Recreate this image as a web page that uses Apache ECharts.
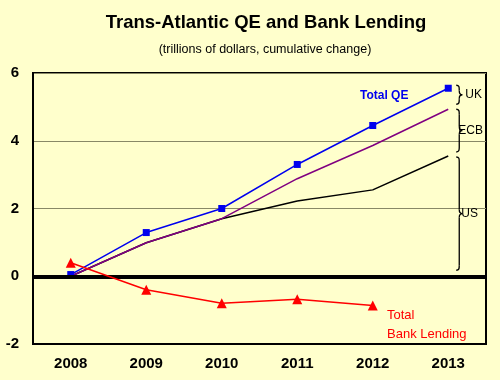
<!DOCTYPE html>
<html><head><meta charset="utf-8">
<script src="https://cdn.jsdelivr.net/npm/echarts@6/dist/echarts.min.js"></script>
<style>html,body{margin:0;padding:0;background:#FFFFCC}#c{width:500px;height:380px}</style>
</head><body><div id="c"></div>
<script>
var years = ['2008','2009','2010','2011','2012','2013'];
var totalQE = [0.05, 1.29, 2.0, 3.3, 4.45, 5.55];
var usPlusEcb = [0.0, 0.99, 1.7, 2.88, 3.86, 4.93];
var usQE = [0.0, 0.99, 1.7, 2.22, 2.55, 3.55];
var bankLending = [0.4, -0.4, -0.8, -0.68, -0.86, null];
var yTicks = [-2, 0, 2, 4, 6];

var chart = echarts.init(document.getElementById('c'), null, {renderer:'canvas'});
var F = '"Liberation Sans", Arial, sans-serif';
var option = {
  backgroundColor: '#FFFFCC',
  animation: false,
  title: [
    {text: 'Trans-Atlantic QE and Bank Lending', left: 261, textAlign: 'center', top: 8,
     textStyle: {fontFamily: F, fontSize: 18.5, fontWeight: 'bold', color: '#000'}},
    {text: '(trillions of dollars, cumulative change)', left: 260, textAlign: 'center', top: 38,
     textStyle: {fontFamily: F, fontSize: 12.5, fontWeight: 'normal', color: '#000'}}
  ],
  grid: {left: 33, right: 14, top: 73, bottom: 36, show: true, borderColor: '#000', borderWidth: 2, backgroundColor: '#FFFFCC'},
  xAxis: {type: 'category', data: years, boundaryGap: true,
    axisLine: {show: true, onZero: false, lineStyle: {color: '#000', width: 2}},
    axisTick: {show: false},
    axisLabel: {fontFamily: F, fontSize: 15, fontWeight: 'bold', color: '#000', margin: 12},
    splitLine: {show: false}},
  yAxis: {type: 'value', min: yTicks[0], max: yTicks[yTicks.length-1], interval: 2,
    axisLine: {show: true, lineStyle: {color: '#000', width: 2}},
    axisTick: {show: false},
    axisLabel: {fontFamily: F, fontSize: 15, fontWeight: 'bold', color: '#000', margin: 14},
    splitLine: {show: true, lineStyle: {color: '#888866', width: 1}}},
  series: [
    {name: 'US', type: 'line', data: usQE, symbol: 'none', lineStyle: {color: '#000', width: 1.5}, z: 2,
     markLine: {silent: true, symbol: 'none', label: {show: false},
       lineStyle: {color: '#000', width: 4, type: 'solid'}, data: [{yAxis: 0}]}},
    {name: 'US+ECB', type: 'line', data: usPlusEcb, symbol: 'none', lineStyle: {color: '#800080', width: 1.5}, z: 3},
    {name: 'Total QE', type: 'line', data: totalQE, symbol: 'rect', symbolSize: 7, showAllSymbol: true,
     itemStyle: {color: '#0000EE'}, lineStyle: {color: '#0000EE', width: 1.5}, z: 4},
    {name: 'Total Bank Lending', type: 'line', data: bankLending, symbol: 'triangle', symbolSize: 10,
     itemStyle: {color: '#FF0000'}, lineStyle: {color: '#FF0000', width: 1.5}, z: 5}
  ]
};
chart.setOption(option);

function px(i, v){ return chart.convertToPixel({gridIndex:0}, [years[i], v]); }
var ST = {fill:null, stroke:'#000', lineWidth:1.3};
function bez(a,b,c,d){ return {type:'bezierCurve', shape:{x1:a[0],y1:a[1],cpx1:b[0],cpy1:b[1],cpx2:c[0],cpy2:c[1],x2:d[0],y2:d[1]}, style:ST, z:10}; }
function ln(a,b){ return {type:'line', shape:{x1:a[0],y1:a[1],x2:b[0],y2:b[1]}, style:ST, z:10}; }
function brace(x0, y1, y2, w){
  var ym = (y1+y2)/2, h = x0 + w*0.5, t = x0 + w;
  return [
    bez([x0,y1],[h,y1],[h,y1+2],[h,y1+5]),
    ln([h,y1+5],[h,ym-4]),
    bez([h,ym-4],[h,ym-1],[x0+w*0.8,ym],[t,ym]),
    bez([t,ym],[x0+w*0.8,ym],[h,ym+1],[h,ym+4]),
    ln([h,ym+4],[h,y2-5]),
    bez([h,y2-5],[h,y2-2],[h,y2],[x0,y2])
  ];
}
var last = years.length-1;
var pQE = px(last, totalQE[last]), pE = px(last, usPlusEcb[last]), pU = px(last, usQE[last]), p0 = px(last, 0);
var bx = pQE[0] + 8;
var braces = [
  [pQE[1]-3, pE[1]-5, 'UK', 9],
  [pE[1], pU[1]-4, 'ECB', 2],
  [pU[1]+1, p0[1]-6, 'US', 5]
];
var g = [];
braces.forEach(function(b){
  g = g.concat(brace(bx, b[0], b[1], 6));
  g.push({type:'text', x: bx + b[3], y:(b[0]+b[1])/2, style:{text:b[2], fontFamily:F, fontSize:12, fill:'#000', verticalAlign:'middle'}, z:10});
});
g.push({type:'text', x:360, y:96, style:{text:'Total QE', fontFamily:F, fontSize:12, fontWeight:'bold', fill:'#0000EE', verticalAlign:'middle'}, z:10});
g.push({type:'text', x:387, y:315, style:{text:'Total', fontFamily:F, fontSize:13, fill:'#FF0000', verticalAlign:'middle'}, z:10});
g.push({type:'text', x:387, y:334, style:{text:'Bank Lending', fontFamily:F, fontSize:13, fill:'#FF0000', verticalAlign:'middle'}, z:10});
chart.setOption({graphic: g});
</script></body></html>
